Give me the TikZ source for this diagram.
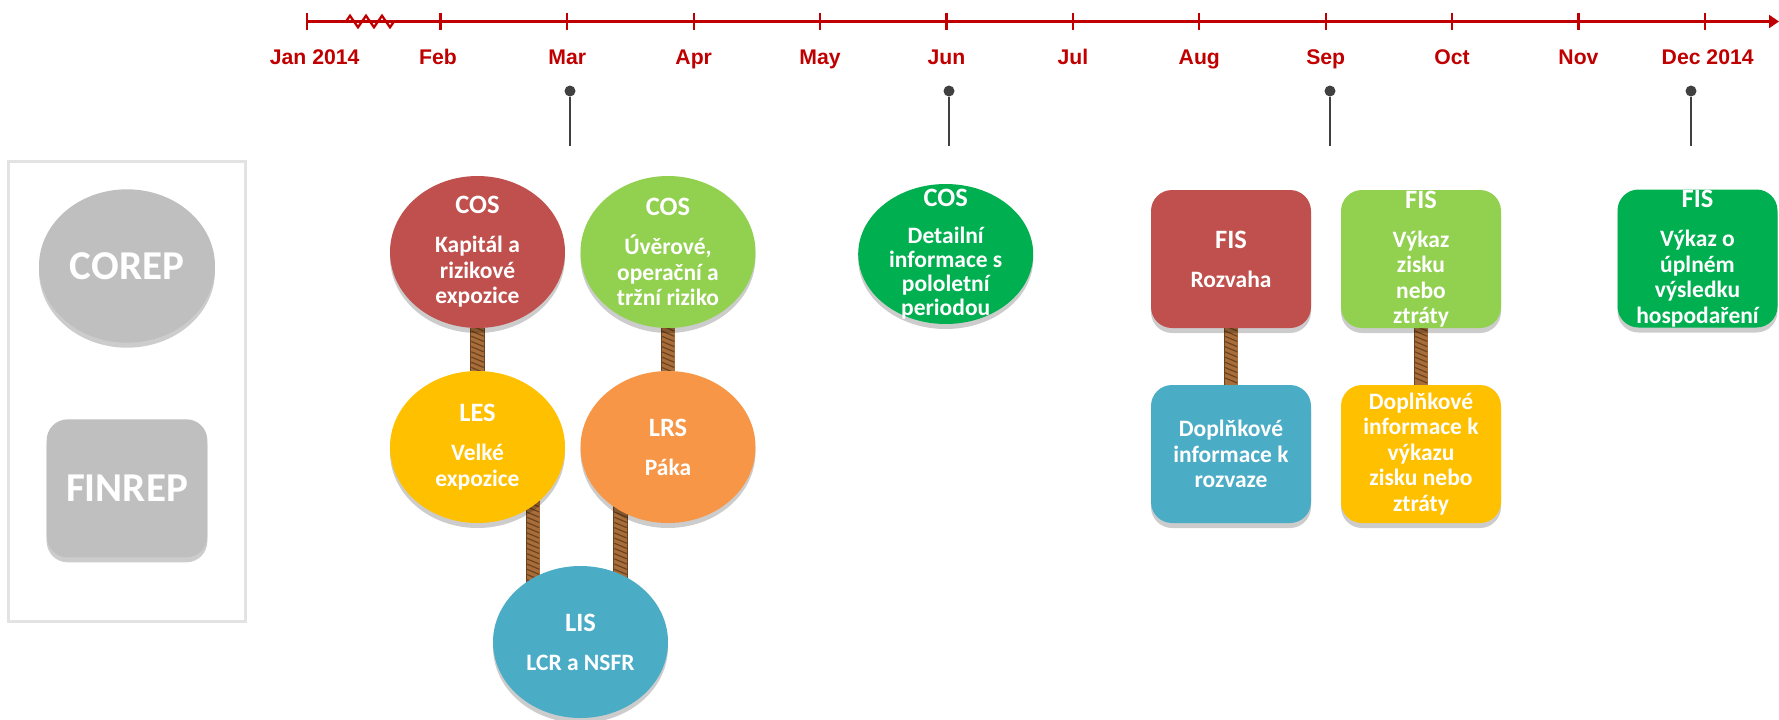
\documentclass[tikz,border=0pt]{standalone}
\usepackage{fontspec}
\setmainfont{Carlito}
\newfontfamily\tlfont{Liberation Sans}
\usepackage{tikz}
\usetikzlibrary{arrows.meta,positioning,calc,shapes.geometric,shadows,decorations.pathmorphing,decorations.markings,backgrounds}
\definecolor{tlred}{HTML}{C00000}
\definecolor{cosred}{HTML}{C0504D}
\definecolor{cosgreen}{HTML}{92D050}
\definecolor{amber}{HTML}{FFC000}
\definecolor{tangerine}{HTML}{F79646}
\definecolor{aqua}{HTML}{4BACC6}
\definecolor{leafgreen}{HTML}{00B050}
\definecolor{legendgray}{HTML}{BFBFBF}
\definecolor{pingray}{HTML}{404040}
\definecolor{ropebrown}{HTML}{A86D38}
\definecolor{ropedark}{HTML}{6B4321}
\newcommand{\boxhead}[1]{{\fontsize{13.25}{12.75}\selectfont #1}\\[6.75pt]}
\tikzstyle{axis}=[tlred,line width=1.15pt]
\tikzstyle{monthlabel}=[tlred,anchor=base,inner sep=0pt,font=\tlfont\bfseries\fontsize{10.6}{12}\selectfont]
\tikzstyle{pinhead}=[circle,fill=pingray,minimum size=5.5pt,inner sep=0pt]
\tikzstyle{pinline}=[pingray,line width=1.4pt]
\tikzstyle{softshadow}=[drop shadow={shadow xshift=0pt,shadow yshift=-2.5pt,opacity=0.2,fill=black}]
\tikzstyle{blob}=[ellipse,softshadow,minimum width=87.5pt,minimum height=76pt,inner sep=-10pt,text=white,align=center,font=\bfseries\fontsize{11.75}{12.75}\selectfont]
\tikzstyle{card}=[rectangle,rounded corners=10.5pt,softshadow,minimum width=80pt,minimum height=69pt,inner sep=-5pt,text=white,align=center,font=\bfseries\fontsize{11.75}{12.75}\selectfont]
\tikzstyle{rope}=[line width=6.5pt,draw=ropebrown,preaction={draw=ropedark,line width=7.3pt},
  postaction={decorate,decoration={markings,mark=between positions 0 and 1 step 2.6pt with {\draw[ropedark,line width=0.6pt] (-1.3pt,-3.1pt) -- (1.3pt,3.1pt);}}}]

\begin{document}
\begin{tikzpicture}[x=0.5pt,y=-0.5pt]
\useasboundingbox (0,0) rectangle (1779,719);

\coordinate (tstart) at (306.7,21.5);
\coordinate (tend) at (1779,21.5);
\draw[axis,-{Triangle[length=5pt,width=6.5pt]}] (tstart) -- (tend);
\draw[axis,decorate,decoration={zigzag,segment length=8pt,amplitude=2.9pt}] (346,21.5) -- (395,21.5);
\foreach \x/\lx/\m [count=\i] in {306.7/314.7/Jan 2014,440.6/438/Feb,567.3/567.3/Mar,693.7/693.7/Apr,820.1/820.1/May,946.5/946.5/Jun,1072.9/1072.9/Jul,1199.3/1199.3/Aug,1325.7/1325.7/Sep,1452.1/1452.1/Oct,1578.5/1578.5/Nov,1704.9/1707.7/Dec 2014}
{
  \draw[axis] (\x,12.7) -- (\x,29.8);
  \node[monthlabel] (month\i) at (\lx,64) {\m};
}
\foreach \x [count=\i] in {570,949,1330,1691}
{
  \node[pinhead] (pin\i) at (\x,91) {};
  \coordinate (pinend\i) at (\x,146);
  \draw[pinline] (pin\i) -- (pinend\i);
}

\node[draw=gray!22,line width=1.5pt,minimum width=118.35pt,minimum height=230pt] (legend) at (126.7,391.7) {};
\node[blob,fill=legendgray,minimum width=88pt,minimum height=76.7pt,font=\bfseries\fontsize{20.5}{22}\selectfont] (corep) at (127,266) {COREP};
\node[card,fill=legendgray,minimum width=80.35pt,font=\bfseries\fontsize{20.5}{22}\selectfont] (finrep) at (127,488.3) {FINREP};

\node[blob,fill=cosred] (cosA) at (477.5,252) {\boxhead{COS}Kapitál a\\rizikové\\expozice};
\node[blob,fill=cosgreen] (cosB) at (668,252) {\boxhead{COS}Úvěrové,\\operační a\\tržní riziko};
\node[blob,fill=amber] (les) at (477.5,447) {\boxhead{LES}Velké\\expozice};
\node[blob,fill=tangerine] (lrs) at (668,447) {\boxhead{LRS}Páka};
\node[blob,fill=aqua] (lis) at (580.5,642) {\boxhead{LIS}LCR a NSFR};
\node[blob,fill=leafgreen,minimum height=70pt,font=\bfseries\fontsize{11.75}{12}\selectfont] (cosC) at (945.7,254) {\boxhead{COS}Detailní\\informace s\\pololetní\\periodou};

\node[card,fill=cosred] (fisA) at (1231,259) {\boxhead{FIS}Rozvaha};
\node[card,fill=cosgreen] (fisB) at (1421,259) {\boxhead{FIS}Výkaz\\zisku\\nebo\\ztráty};
\node[card,fill=aqua] (dopA) at (1231,454) {Doplňkové\\informace k\\rozvaze};
\node[card,fill=amber] (dopB) at (1421,454) {Doplňkové\\informace k\\výkazu\\zisku nebo\\ztráty};
\node[card,fill=leafgreen] (fisC) at (1697.5,258.5) {\boxhead{FIS}Výkaz o\\úplném\\výsledku\\hospodaření};

\begin{scope}[on background layer]
\path (les.center) ++(55.5,0) coordinate (ropeL);
\path (lrs.center) ++(-47.5,0) coordinate (ropeR);
\draw[rope] (cosA) -- (les);
\draw[rope] (cosB) -- (lrs);
\draw[rope] (ropeL) -- (ropeL |- lis.center);
\draw[rope] (ropeR) -- (ropeR |- lis.center);
\draw[rope] (fisA) -- (dopA);
\draw[rope] (fisB) -- (dopB);
\end{scope}
\end{tikzpicture}
\end{document}
